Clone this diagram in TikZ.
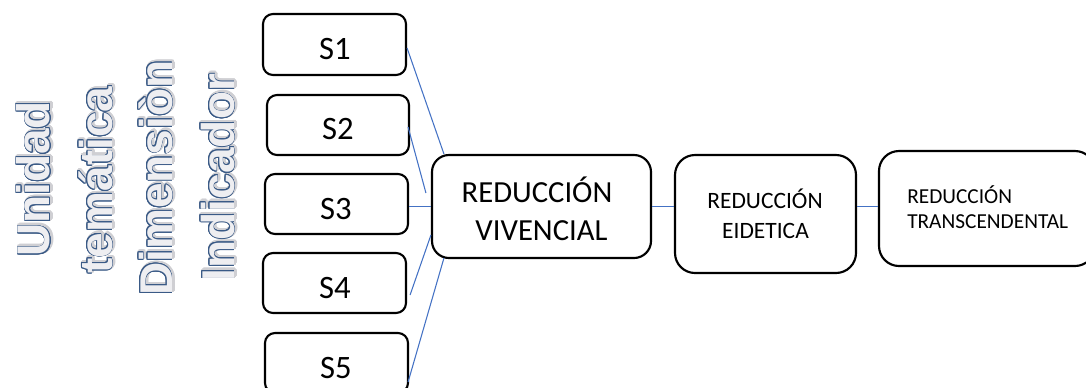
\documentclass[tikz,border=0pt]{standalone}
\usepackage{fontspec}
\setmainfont{Carlito}
\newfontfamily\leftfont{Liberation Sans}
\usepackage{contour}
\usetikzlibrary{calc}
\definecolor{outlineblue}{HTML}{3A5A86}
\definecolor{fillgray}{HTML}{EEEEF1}
\definecolor{shadowgray}{HTML}{CFCFD3}
\definecolor{connblue}{HTML}{4472C4}
\begin{document}
\begin{tikzpicture}[x=0.75pt,y=-0.75pt,
  sbox/.style={draw=black,line width=1.6pt,rounded corners=10*0.75pt,minimum width=143*0.75pt,minimum height=60*0.75pt,inner sep=0pt},
  bigbox/.style={draw=black,line width=1.6pt,rounded corners=18*0.75pt,inner sep=0pt},
  slabel/.style={anchor=base,inner sep=0pt,font=\fontsize{24.5}{28}\selectfont},
  rvlabel/.style={anchor=base,inner sep=0pt,font=\fontsize{23}{27}\selectfont},
  relabel/.style={anchor=base,inner sep=0pt,font=\fontsize{17.6}{21}\selectfont},
  rtlabel/.style={anchor=base west,inner sep=0pt,font=\fontsize{16}{19}\selectfont},
  vtext/.style={rotate=90,anchor=base,inner sep=0pt,font=\leftfont\bfseries\fontsize{34.5}{40}\selectfont},
  conn/.style={draw=connblue,line width=0.8pt}]
\useasboundingbox (0,0) rectangle (1086,387);

% vertical titles
\contourlength{1.3pt}
\node[vtext,xshift=1pt,yshift=-1pt] (u0) at (50,179) {\contour{shadowgray}{\textcolor{shadowgray}{Unidad}}};
\node[vtext,xshift=1pt,yshift=-1pt] (t0) at (112,180) {\contour{shadowgray}{\textcolor{shadowgray}{temática}}};
\node[vtext,xshift=1pt,yshift=-1pt] (d0) at (172,178) {\contour{shadowgray}{\textcolor{shadowgray}{Dimensiòn}}};
\node[vtext,xshift=1pt,yshift=-1pt] (i0) at (234,177.5) {\contour{shadowgray}{\textcolor{shadowgray}{Indicador}}};
\contourlength{0.7pt}
\node[vtext] (u1) at (50,179) {\contour{outlineblue}{\textcolor{fillgray}{Unidad}}};
\node[vtext] (t1) at (112,180) {\contour{outlineblue}{\textcolor{fillgray}{temática}}};
\node[vtext] (d1) at (172,178) {\contour{outlineblue}{\textcolor{fillgray}{Dimensiòn}}};
\node[vtext] (i1) at (234,177.5) {\contour{outlineblue}{\textcolor{fillgray}{Indicador}}};

% S boxes
\node[sbox,minimum height=61*0.75pt] (s1) at (334.5,44.5) {};
\node[sbox,minimum width=142*0.75pt] (s2) at (338,125) {};
\node[sbox] (s3) at (336.5,204) {};
\node[sbox] (s4) at (334.5,283) {};
\node[sbox] (s5) at (336.5,363) {};
\node[slabel] (s1t) at (335,59) {S1};
\node[slabel] (s2t) at (338,139.5) {S2};
\node[slabel] (s3t) at (336,219) {S3};
\node[slabel] (s4t) at (335,298) {S4};
\node[slabel] (s5t) at (336,378) {S5};

% main boxes
\node[bigbox,rounded corners=17*0.75pt,minimum width=219*0.75pt,minimum height=103*0.75pt] (rv) at (541.5,206.5) {};
\node[rvlabel] (rv1) at (537,202) {REDUCCIÓN};
\node[rvlabel] (rv2) at (541.5,240) {VIVENCIAL};

\node[bigbox,rounded corners=20*0.75pt,minimum width=181*0.75pt,minimum height=118*0.75pt] (re) at (765.5,214) {};
\node[relabel] (re1) at (765,208) {REDUCCIÓN};
\node[relabel] (re2) at (765.5,238) {EIDETICA};

\node[bigbox,rounded corners=20*0.75pt,minimum width=216*0.75pt,minimum height=115*0.75pt] (rt) at (987,208.5) {};
\node[rtlabel] (rt1) at (907,203) {REDUCCIÓN};
\node[rtlabel] (rt2) at (907,228) {TRANSCENDENTAL};

% connectors
\draw[conn] ($(s1.east)+(0,3.5)$) -- ($(rv.north west)+(13,0)$);
\draw[conn] ($(s2.east)+(-2,2)$) -- ($(rv.west)+(-5,-13.5)$);
\draw[conn] (s3.east |- rv.west) -- (rv.west);
\draw[conn] ($(s4.east)+(3,12)$) -- ($(rv.west)+(0,28.5)$);
\draw[conn] ($(s5.east)+(-1,19)$) -- ($(rv.south west)+(13,-1)$);
\draw[conn] (rv.east) -- (re.west |- rv.east);
\coordinate (reout) at ($(re.east)+(0,-7.5)$);
\draw[conn] (reout) -- (rt.west |- reout);
\end{tikzpicture}
\end{document}
